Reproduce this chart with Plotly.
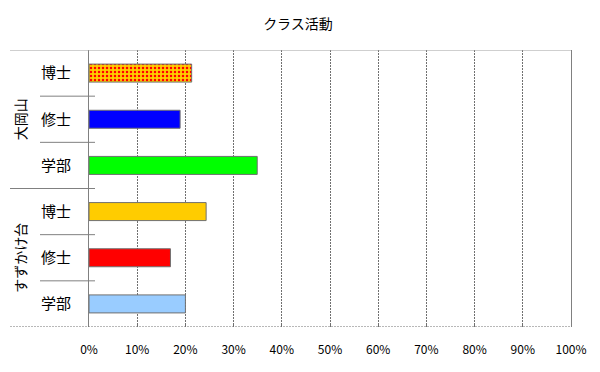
import plotly.graph_objects as go

# ---- data ----
groups = ["大岡山", "すずかけ台"]
degrees = ["博士", "修士", "学部"]
values_ookayama = [0.213, 0.189, 0.349]
values_suzukake = [0.243, 0.169, 0.200]
tick_values = [0, 0.1, 0.2, 0.3, 0.4, 0.5, 0.6, 0.7, 0.8, 0.9, 1.0]
tick_labels = ["0%", "10%", "20%", "30%", "40%", "50%", "60%", "70%", "80%", "90%", "100%"]

# ---- style ----
bar_colors = ["#FFCC00", "#0000FF", "#00FF00", "#FFCC00", "#FF0000", "#99CCFF"]
font_family = "Noto Sans CJK JP"

values = values_ookayama + values_suzukake
labels = degrees + degrees
ypos = list(range(len(values)))

# page has an 8px body offset; target plot area in screen px: x 89..571, y 50..327
OFF = 8
L, R, T, B = 89 - OFF, 600 + OFF - 571, 50 - OFF, 372 + OFF - 327
W = 571 - 89

def px(x):
    return (x - 89) / W

fig = go.Figure()
# patterned first bar
fig.add_trace(go.Bar(
    x=values[:1], y=ypos[:1], orientation="h", width=0.39,
    marker=dict(
        color=bar_colors[0],
        line=dict(color="#707070", width=1),
        pattern=dict(shape=".", fgcolor="#FF0000", bgcolor=bar_colors[0],
                     fgopacity=1, size=4, solidity=0.3),
    ),
    hoverinfo="x", showlegend=False,
))
fig.add_trace(go.Bar(
    x=values[1:], y=ypos[1:], orientation="h", width=0.39,
    marker=dict(color=bar_colors[1:], line=dict(color="#707070", width=1)),
    hoverinfo="x", showlegend=False,
))

n = len(values)
shapes = []
shapes.append(dict(type="line", xref="paper", yref="y", x0=px(10), x1=1, y0=-0.5, y1=-0.5,
                   line=dict(color="#A0A0A0", width=1)))
shapes.append(dict(type="line", xref="paper", yref="y", x0=px(10), x1=1, y0=n - 0.5, y1=n - 0.5,
                   line=dict(color="#707070", width=1, dash="2px,1px")))
shapes.append(dict(type="line", xref="paper", yref="y", x0=px(10), x1=px(95), y0=2.5, y1=2.5,
                   line=dict(color="#808080", width=1)))
for b in [0.5, 1.5, 3.5, 4.5]:
    shapes.append(dict(type="line", xref="paper", yref="y", x0=px(40), x1=px(95), y0=b, y1=b,
                       line=dict(color="#808080", width=1)))

annotations = []
for gi, g in enumerate(groups):
    annotations.append(dict(
        text=g, xref="paper", yref="y", x=px(20), y=gi * 3 + 1, showarrow=False,
        textangle=-90, font=dict(family=font_family, size=14, color="#000000"),
        xanchor="center", yanchor="middle",
    ))

fig.update_layout(
    width=600, height=372,
    margin=dict(l=L, r=R, t=T, b=B),
    paper_bgcolor="white", plot_bgcolor="white",
    barmode="overlay",
    title=dict(text="クラス活動", x=(298 - OFF) / 600, xanchor="center",
               y=1 - (24 - OFF) / 372, yanchor="middle",
               font=dict(family=font_family, size=14, color="#000000")),
    font=dict(family=font_family, size=12, color="#000000"),
    shapes=shapes, annotations=annotations,
)
fig.update_xaxes(
    range=[0, 1], tickvals=tick_values, ticktext=tick_labels,
    showgrid=True, gridcolor="#707070", griddash="2px,1px", gridwidth=1,
    showline=False,
    ticks="inside", ticklen=3, tickcolor="#707070",
    ticklabelstandoff=14, zeroline=False,
    tickfont=dict(family=font_family, size=12, color="#000000"),
)
fig.update_yaxes(
    range=[n - 0.5, -0.5], tickvals=ypos, ticktext=labels,
    showgrid=False, showline=True, linecolor="#808080", linewidth=1, mirror=True,
    ticks="", ticklabelstandoff=14, zeroline=False,
    tickfont=dict(family=font_family, size=15, color="#000000"),
)

fig.write_html("out.html")
